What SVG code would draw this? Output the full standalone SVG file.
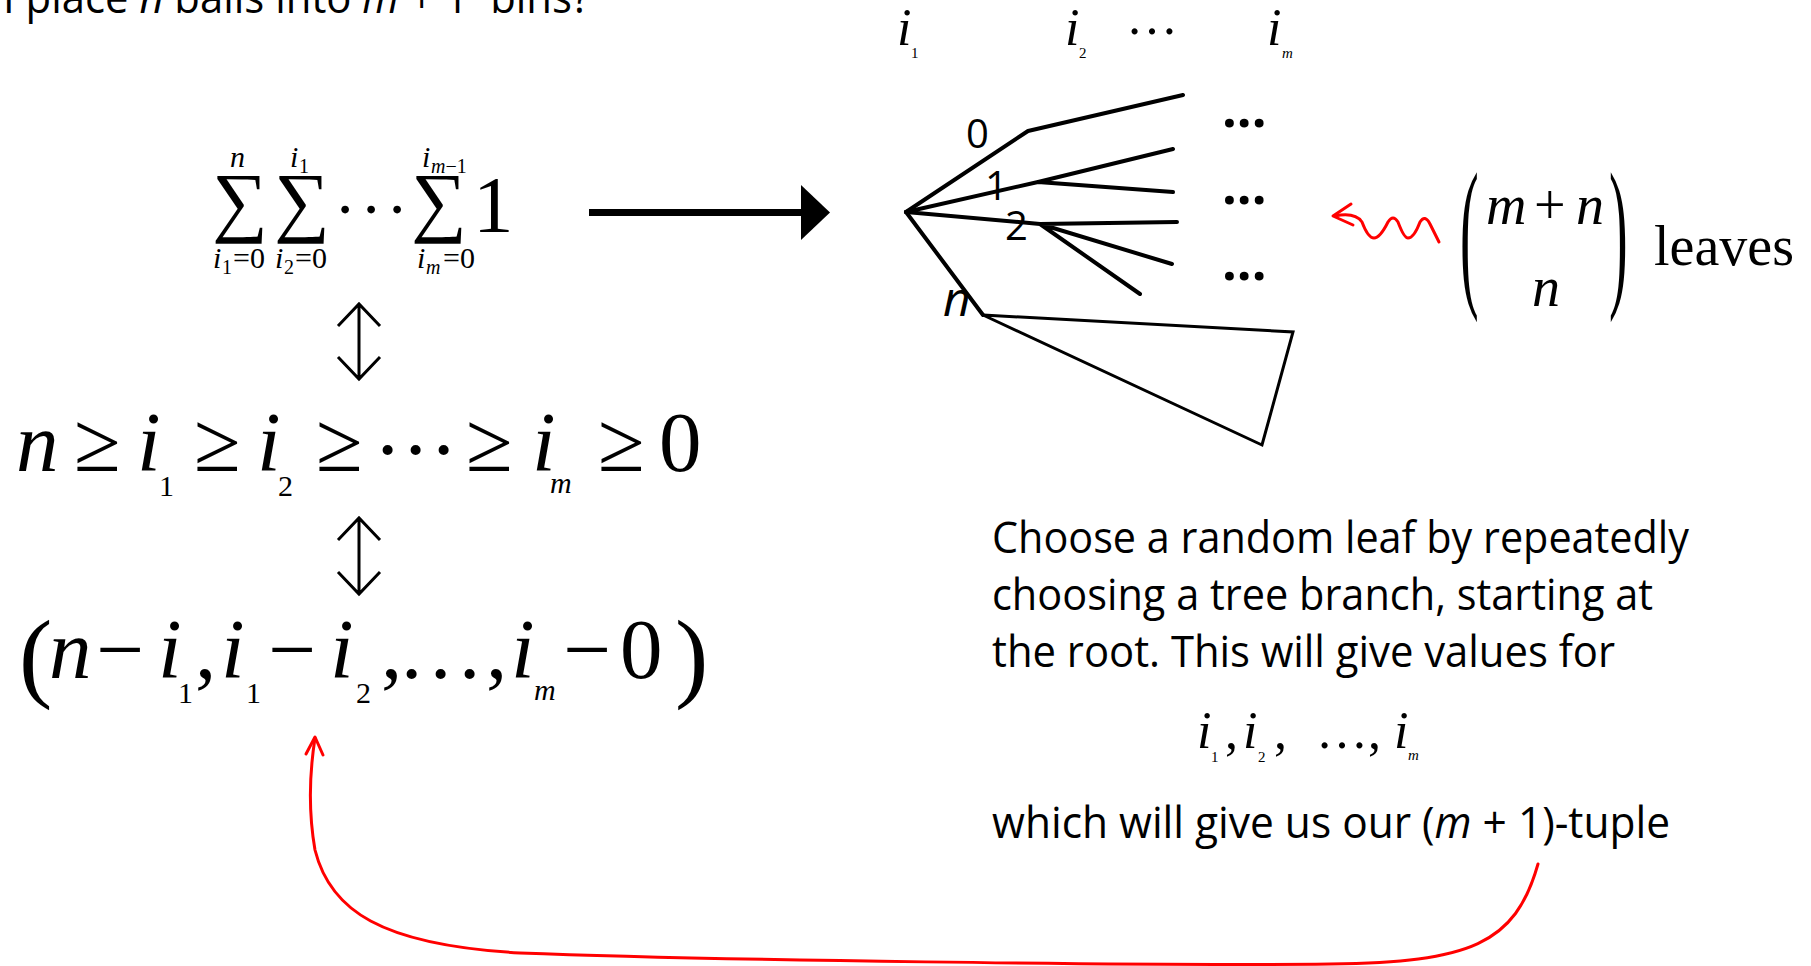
<svg xmlns="http://www.w3.org/2000/svg" width="1811" height="966" viewBox="0 0 1811 966">
<defs>
<style>
.sans{font-family:"Open Sans","Liberation Sans",sans-serif;fill:#000}
.ser{font-family:"Liberation Serif","Times New Roman",serif;fill:#000}
.it{font-style:italic}
.br{fill:none;stroke:#000;stroke-width:4;stroke-linecap:round;stroke-linejoin:round}
.tri{fill:none;stroke:#000;stroke-width:3;stroke-linejoin:miter}
.red{fill:none;stroke:#ff0000;stroke-width:3;stroke-linecap:round;stroke-linejoin:round}
.eqv{fill:none;stroke:#000;stroke-width:3;stroke-linecap:butt;stroke-linejoin:miter}
</style>
</defs>
<rect width="1811" height="966" fill="#fff"/>

<g id="title">
<text class="sans" x="3" y="13" font-size="44" textLength="587" lengthAdjust="spacingAndGlyphs" xml:space="preserve">I place <tspan class="it">n</tspan> balls into <tspan class="it">m</tspan> + 1  bins?</text>
</g>

<g id="sum-formula" class="ser">
<text x="212" y="227" font-size="78">∑</text>
<text x="274" y="227" font-size="78">∑</text>
<text x="337" y="213" font-size="65">.</text>
<text x="363" y="213" font-size="65">.</text>
<text x="389" y="213" font-size="65">.</text>
<text x="411" y="227" font-size="78">∑</text>
<text x="473" y="232" font-size="81">1</text>
<text x="230" y="167" font-size="30" class="it">n</text>
<text x="290" y="167" font-size="30" class="it">i</text>
<text x="299" y="173" font-size="20">1</text>
<text x="422" y="167" font-size="30" class="it">i</text>
<text x="431" y="173" font-size="20"><tspan class="it">m</tspan>−1</text>
<text x="213" y="268" font-size="30" class="it">i</text>
<text x="222" y="274" font-size="20">1</text>
<text x="233" y="268" font-size="30">=0</text>
<text x="275" y="268" font-size="30" class="it">i</text>
<text x="284" y="274" font-size="20">2</text>
<text x="295" y="268" font-size="30">=0</text>
<text x="417" y="268" font-size="30" class="it">i</text>
<text x="426" y="274" font-size="20" class="it">m</text>
<text x="443" y="268" font-size="30">=0</text>
</g>

<g id="inequality" class="ser" font-size="85">
<text x="16" y="471" class="it">n</text>
<text x="74" y="471">≥</text>
<text x="137" y="471" class="it">i</text>
<text x="159" y="496" font-size="30">1</text>
<text x="194" y="471">≥</text>
<text x="257" y="471" class="it">i</text>
<text x="278" y="496" font-size="30">2</text>
<text x="316" y="471">≥</text>
<text x="377" y="454">.</text>
<text x="405" y="454">.</text>
<text x="433" y="454">.</text>
<text x="466" y="471">≥</text>
<text x="532" y="471" class="it">i</text>
<text x="550" y="493" font-size="30" class="it">m</text>
<text x="598" y="471">≥</text>
<text x="659" y="471">0</text>
</g>

<g id="tuple" class="ser" font-size="85">
<text x="19" y="689" font-size="100">(</text>
<text x="49" y="678" class="it">n</text>
<text x="96" y="678">−</text>
<text x="158" y="678" class="it">i</text>
<text x="178" y="703" font-size="30">1</text>
<text x="195" y="678">,</text>
<text x="221" y="678" class="it">i</text>
<text x="246" y="703" font-size="30">1</text>
<text x="268" y="678">−</text>
<text x="330" y="678" class="it">i</text>
<text x="356" y="703" font-size="30">2</text>
<text x="381" y="678">,</text>
<text x="401" y="678">.</text>
<text x="430" y="678">.</text>
<text x="459" y="678">.</text>
<text x="486" y="678">,</text>
<text x="511" y="678" class="it">i</text>
<text x="534" y="700" font-size="30" class="it">m</text>
<text x="563" y="678">−</text>
<text x="620" y="678">0</text>
<text x="675" y="689" font-size="100">)</text>
</g>

<g id="tree-labels" class="ser">
<text x="897" y="45" font-size="52" class="it">i</text>
<text x="911" y="58" font-size="15">1</text>
<text x="1065" y="45" font-size="52" class="it">i</text>
<text x="1079" y="58" font-size="15">2</text>
<text x="1126" y="34" font-size="52">…</text>
<text x="1267" y="45" font-size="52" class="it">i</text>
<text x="1282" y="58" font-size="15" class="it">m</text>
</g>

<g id="tree">
<path class="br" d="M906,212 L1028,131 L1183,95"/>
<path class="br" d="M906,212 L1038,182 L1173,149 M1038,182 L1173,192"/>
<path class="br" d="M906,212 L1040,224 L1177,222 M1040,224 L1172,264 M1040,224 L1140,294"/>
<path class="br" d="M906,212 L983,315"/>
<path class="tri" d="M983,315 L1293,332 L1262,445 Z"/>
<text class="sans" x="966" y="148" font-size="40">0</text>
<text class="sans" x="985" y="200" font-size="40">1</text>
<text class="sans" x="1005" y="240" font-size="40">2</text>
<text class="sans it" x="943" y="316" font-size="48">n</text>
<text class="sans" x="1222" y="127" font-size="52" font-weight="bold">...</text>
<text class="sans" x="1222" y="204" font-size="52" font-weight="bold">...</text>
<text class="sans" x="1222" y="280" font-size="52" font-weight="bold">...</text>
</g>

<g id="binomial" class="ser">
<text transform="translate(1460,287) scale(1,2.94)" font-size="56">(</text>
<text x="1486" y="224" font-size="56" class="it">m</text>
<text x="1534" y="224" font-size="56">+</text>
<text x="1576" y="224" font-size="56" class="it">n</text>
<text x="1532" y="306" font-size="56" class="it">n</text>
<text transform="translate(1609,287) scale(1,2.94)" font-size="56">)</text>
<text x="1654" y="265" font-size="56">leaves</text>
</g>

<g id="description" class="sans" font-size="44">
<text x="992" y="553" textLength="697" lengthAdjust="spacingAndGlyphs">Choose a random leaf by repeatedly</text>
<text x="992" y="610" textLength="661" lengthAdjust="spacingAndGlyphs">choosing a tree branch, starting at</text>
<text x="992" y="667" textLength="623" lengthAdjust="spacingAndGlyphs">the root. This will give values for</text>
<text x="992" y="838" textLength="678" lengthAdjust="spacingAndGlyphs">which will give us our (<tspan class="it">m</tspan> + 1)-tuple</text>
</g>

<g id="values" class="ser">
<text x="1197" y="748" font-size="52" class="it">i</text>
<text x="1211" y="762" font-size="15">1</text>
<text x="1225" y="748" font-size="52">,</text>
<text x="1243" y="748" font-size="52" class="it">i</text>
<text x="1258" y="762" font-size="15">2</text>
<text x="1274" y="748" font-size="52">,</text>
<text x="1316" y="748" font-size="52">…,</text>
<text x="1394" y="748" font-size="52" class="it">i</text>
<text x="1408" y="760" font-size="15" class="it">m</text>
</g>

<g id="connectors">
<path class="eqv" d="M359,304 L359,379 M338,326 L359,304 L380,326 M338,357 L359,379 L380,357"/>
<path class="eqv" d="M359,518 L359,594 M338,540 L359,518 L380,540 M338,572 L359,594 L380,572"/>
<path d="M589,212.5 L803,212.5" stroke="#000" stroke-width="7" fill="none"/>
<polygon points="801,185 830,212.5 801,240" fill="#000"/>
<path class="red" d="M1335,216 Q1355,212 1362,222 Q1368,238 1374,238 Q1380,238 1388,222 Q1393,214 1398,222 Q1404,238 1408,238 Q1414,238 1420,222 Q1425,214 1430,224 L1439,242"/>
<path class="red" d="M1351,204 L1333,216 L1353,225"/>
<path class="red" stroke-width="2.5" d="M1538,864 C1515,945 1470,962 1330,964 C1150,966 700,960 520,953 C380,945 330,910 315,850 C308,810 310,770 315,738"/>
<path class="red" stroke-width="2" d="M306,754 L315,737 L323,755"/>
</g>
</svg>
